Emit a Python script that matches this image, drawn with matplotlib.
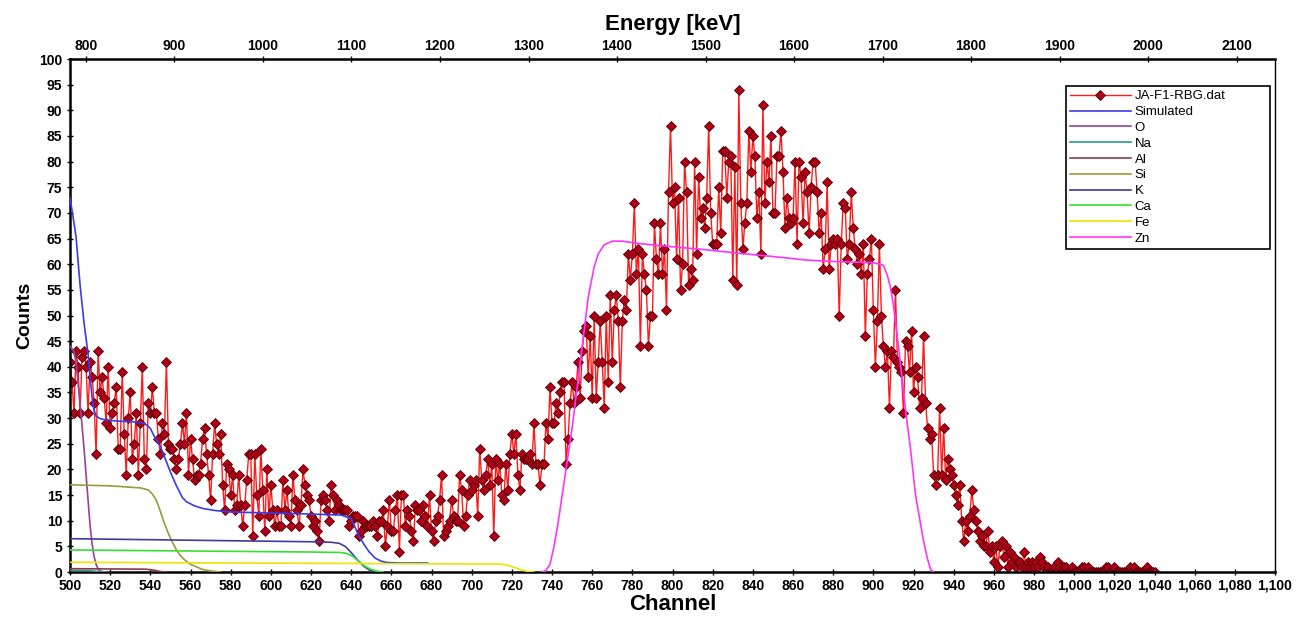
import numpy as np
import matplotlib
matplotlib.use("Agg")
import matplotlib.pyplot as plt
from matplotlib.ticker import FuncFormatter, MultipleLocator, FixedLocator

plt.rcParams['font.family'] = ['Liberation Sans', 'DejaVu Sans']

# measured spectrum, one value per channel starting at channel 500
counts = (
    [41, 37, 31, 43, 40, 31, 42, 43, 40, 31,
     41, 38, 33, 23, 43, 35, 38, 34, 29, 40,
     28, 31, 33, 36, 24, 24, 39, 27, 19, 30,
     35, 22, 25, 31, 19, 29, 40, 22, 20, 33,
     31, 36, 31, 31, 26, 23, 29, 27, 41, 25,
     24, 24, 22, 20, 22, 25, 29, 25, 31, 19,
     26, 22, 18, 19, 19, 21, 26, 28, 23, 19,
     14, 23, 29, 25, 23, 27, 17, 12, 21, 20,
     15, 19, 12, 13, 19, 13, 9, 13, 18, 23,
     23, 7, 23, 15, 11, 24, 16, 8, 20, 11]
    + [17, 12, 9, 12, 9, 9, 18, 12, 16, 11,
       9, 19, 14, 12, 9, 13, 20, 17, 15, 14,
       11, 9, 10, 8, 6, 14, 15, 14, 12, 10,
       17, 15, 12, 14, 13, 12, 12, 12, 12, 9,
       10, 11, 11, 11, 7, 8, 10, 9, 9, 9,
       9, 10, 9, 7, 10, 10, 12, 5, 9, 14,
       8, 8, 12, 15, 4, 15, 15, 9, 12, 11,
       8, 6, 13, 12, 12, 10, 13, 11, 9, 15,
       8, 6, 10, 11, 14, 19, 7, 8, 9, 10,
       14, 11, 10, 10, 19, 16, 9, 11, 15, 18]
    + [16, 17, 18, 11, 24, 18, 16, 19, 22, 17,
       21, 7, 22, 18, 21, 15, 14, 21, 16, 23,
       27, 23, 27, 19, 16, 23, 22, 22, 22, 23,
       21, 29, 21, 21, 17, 21, 21, 29, 26, 36,
       29, 29, 33, 31, 35, 37, 37, 21, 26, 33,
       37, 33, 36, 41, 34, 43, 47, 48, 38, 46,
       34, 50, 34, 41, 49, 41, 32, 50, 37, 54,
       41, 51, 54, 49, 36, 49, 53, 51, 62, 57,
       62, 72, 58, 63, 44, 62, 58, 55, 44, 50,
       50, 68, 61, 58, 68, 58, 63, 51, 74, 87]
    + [72, 75, 61, 73, 55, 60, 80, 74, 56, 59,
       57, 80, 62, 77, 69, 71, 67, 73, 87, 70,
       64, 64, 64, 75, 66, 82, 82, 73, 80, 81,
       57, 79, 56, 94, 72, 63, 68, 72, 86, 78,
       85, 81, 69, 74, 62, 91, 72, 80, 76, 85,
       70, 70, 81, 81, 86, 78, 67, 73, 69, 68,
       69, 80, 64, 80, 77, 68, 78, 74, 66, 75,
       80, 80, 74, 66, 70, 59, 63, 76, 59, 64,
       65, 64, 65, 50, 64, 72, 71, 61, 64, 74,
       67, 63, 60, 62, 58, 64, 46, 58, 61, 65]
    + [51, 40, 49, 64, 50, 44, 40, 43, 32, 43,
       42, 55, 41, 40, 39, 31, 45, 44, 39, 47,
       35, 40, 38, 32, 34, 46, 33, 28, 26, 27,
       19, 17, 19, 32, 19, 28, 18, 22, 20, 19,
       17, 15, 13, 17, 10, 6, 10, 8, 11, 16,
       12, 10, 8, 6, 7, 5, 5, 8, 4, 5,
       2, 5, 1, 5, 6, 3, 5, 1, 4, 2,
       3, 1, 2, 2, 1, 4, 1, 2, 1, 2,
       1, 2, 1, 3, 2, 1, 0, 1, 0, 0,
       1, 0, 2, 1, 0, 1, 1, 0, 0, 1]
    + [0, 0, 0, 0, 1, 1, 0, 1, 0, 0,
       0, 0, 0, 0, 0, 0, 1, 1, 0, 0,
       1, 0, 0, 0, 0, 0, 0, 0, 1, 0,
       1, 0, 0, 0, 0, 0, 1, 0, 0, 0,
       0]
)
channel = np.arange(500, 500 + len(counts))

# simulated curves (channel, counts)
sim_ch = [500, 502, 503, 505, 507, 509, 510, 511, 512, 513, 515, 518, 525, 531, 537,
          540, 542, 545, 547, 550, 553, 556, 558, 562, 566, 572, 580, 600, 620, 635,
          640, 643, 646, 649, 652, 655, 658, 665, 678]
sim_val = [73, 68, 65.4, 56, 48.5, 42.5, 38, 34, 31.5, 30.4, 29.9, 29.6, 29.4, 29.3, 29,
           28, 26.4, 24.5, 22.5, 19.5, 16.8, 14.5, 13.7, 12.9, 12.4, 12, 11.7, 11.5, 11.3, 11.1,
           10.4, 7.8, 5.6, 3.9, 2.7, 2.1, 1.85, 1.75, 1.75]

o_ch = [500, 502, 503, 505, 507, 508, 509, 510, 511, 512, 513, 514, 515, 517]
o_val = [44, 43, 40.7, 33, 24, 19, 14, 9, 5.5, 3, 1.5, 0.6, 0.2, 0]

na_ch = [500, 505, 510, 514, 518]
na_val = [0.3, 0.3, 0.25, 0.1, 0]

al_ch = [500, 520, 538, 542, 545, 548]
al_val = [0.65, 0.6, 0.55, 0.35, 0.1, 0]

si_ch = [500, 520, 535, 539, 541, 543, 545, 547, 549, 551, 553, 555, 557, 560, 563, 566, 570, 575]
si_val = [17, 16.8, 16.4, 16, 15.2, 14, 11.8, 9.5, 7.5, 5.8, 4.3, 3.2, 2.4, 1.5, 1, 0.5, 0.2, 0]

k_ch = [500, 540, 580, 620, 630, 634, 637, 640, 643, 646, 649, 652, 655]
k_val = [6.5, 6.3, 6.1, 5.9, 5.8, 5.6, 5.0, 3.8, 2.4, 1.2, 0.4, 0.1, 0]

ca_ch = [500, 560, 620, 635, 638, 641, 644, 647, 650, 653, 656]
ca_val = [4.3, 4.1, 3.9, 3.8, 3.6, 3.0, 2.0, 1.1, 0.5, 0.15, 0]

fe_ch = [500, 560, 620, 680, 714, 718, 722, 725, 728, 731]
fe_val = [1.9, 1.8, 1.7, 1.6, 1.55, 1.3, 0.8, 0.4, 0.1, 0]

zn_ch = [735, 737, 739, 741, 743, 746, 750, 754, 758, 761, 763, 766, 770, 775, 784,
         800, 817, 834, 850, 867, 882, 900, 905, 907, 908.5, 910, 912.5, 914.5, 916.5,
         918.5, 921, 923, 925, 927, 928.5, 930]
zn_val = [0, 0.3, 1.5, 5, 9.5, 17.5, 28, 40.7, 53.5, 59.5, 62, 63.8, 64.5, 64.5, 64,
          63.4, 62.8, 62.1, 61.5, 60.8, 60.5, 60.3, 59.8, 57.8, 55.5, 52, 44, 37, 30,
          24, 15, 10.5, 6, 2.5, 0.5, 0]

energy_ticks = [800, 900, 1000, 1100, 1200, 1300, 1400, 1500, 1600, 1700,
                1800, 1900, 2000, 2100]

elements = [
    ("O", o_ch, o_val, "#9b3f9b"),
    ("Na", na_ch, na_val, "#2a9a8a"),
    ("Al", al_ch, al_val, "#8b3a4a"),
    ("Si", si_ch, si_val, "#9a9a3a"),
    ("K", k_ch, k_val, "#3c3ca0"),
    ("Ca", ca_ch, ca_val, "#33e033"),
    ("Fe", fe_ch, fe_val, "#e6e600"),
    ("Zn", zn_ch, zn_val, "#ff33ff"),
]

fig = plt.figure(figsize=(13.06, 6.18), dpi=100)
ax = fig.add_axes([0.0536, 0.0744, 0.9227, 0.8301])

ax.plot(channel, counts, color="#ff1a1a", lw=1.0, marker="D", ms=5,
        mfc="#b00018", mec="#500000", mew=0.6, label="JA-F1-RBG.dat", zorder=2)
ax.plot(sim_ch, sim_val, color="#3a3af0", lw=1.2, label="Simulated", zorder=3)
for name, xs, ys, col in elements:
    ax.plot(xs, ys, color=col, lw=1.2, label=name, zorder=4)

ax.set_xlim(500, 1100)
ax.set_ylim(0, 100)
ax.xaxis.set_major_locator(MultipleLocator(20))
ax.yaxis.set_major_locator(MultipleLocator(5))
ax.xaxis.set_major_formatter(FuncFormatter(lambda v, p: f"{int(v):,}"))
ax.tick_params(axis="both", direction="inout", length=4, width=1, labelsize=10)
ax.tick_params(axis="x", pad=3)
for lab in ax.get_xticklabels() + ax.get_yticklabels():
    lab.set_fontweight("bold")

for side in ["left", "bottom", "top"]:
    ax.spines[side].set_linewidth(1.8)
ax.spines["right"].set_linewidth(1.0)

ax.set_xlabel("Channel", fontsize=16, fontweight="bold", labelpad=1)
ax.set_ylabel("Counts", fontsize=14, fontweight="bold", labelpad=4)

# energy axis on top: E = 782 + 2.269 * (channel - 500)
def ch2e(c):
    return 782 + 2.269 * (np.asarray(c) - 500)

def e2ch(e):
    return 500 + (np.asarray(e) - 782) / 2.269

top = ax.secondary_xaxis("top", functions=(ch2e, e2ch))
top.xaxis.set_major_locator(FixedLocator(energy_ticks))
top.tick_params(direction="inout", length=4, width=1, labelsize=10, pad=2)
for lab in top.get_xticklabels():
    lab.set_fontweight("bold")
top.set_xlabel("Energy [keV]", fontsize=16, fontweight="bold", labelpad=7)

leg = ax.legend(loc="upper left", bbox_to_anchor=(0.8266, 0.5, 0.1693, 0.447),
                mode="expand", fontsize=9.5,
                frameon=True, fancybox=False, edgecolor="black", framealpha=1,
                handlelength=4.6, labelspacing=0.27, numpoints=1,
                borderpad=0.3, handletextpad=0.3, borderaxespad=0)
leg.get_frame().set_linewidth(1.2)

fig.savefig("out.png", dpi=100)
